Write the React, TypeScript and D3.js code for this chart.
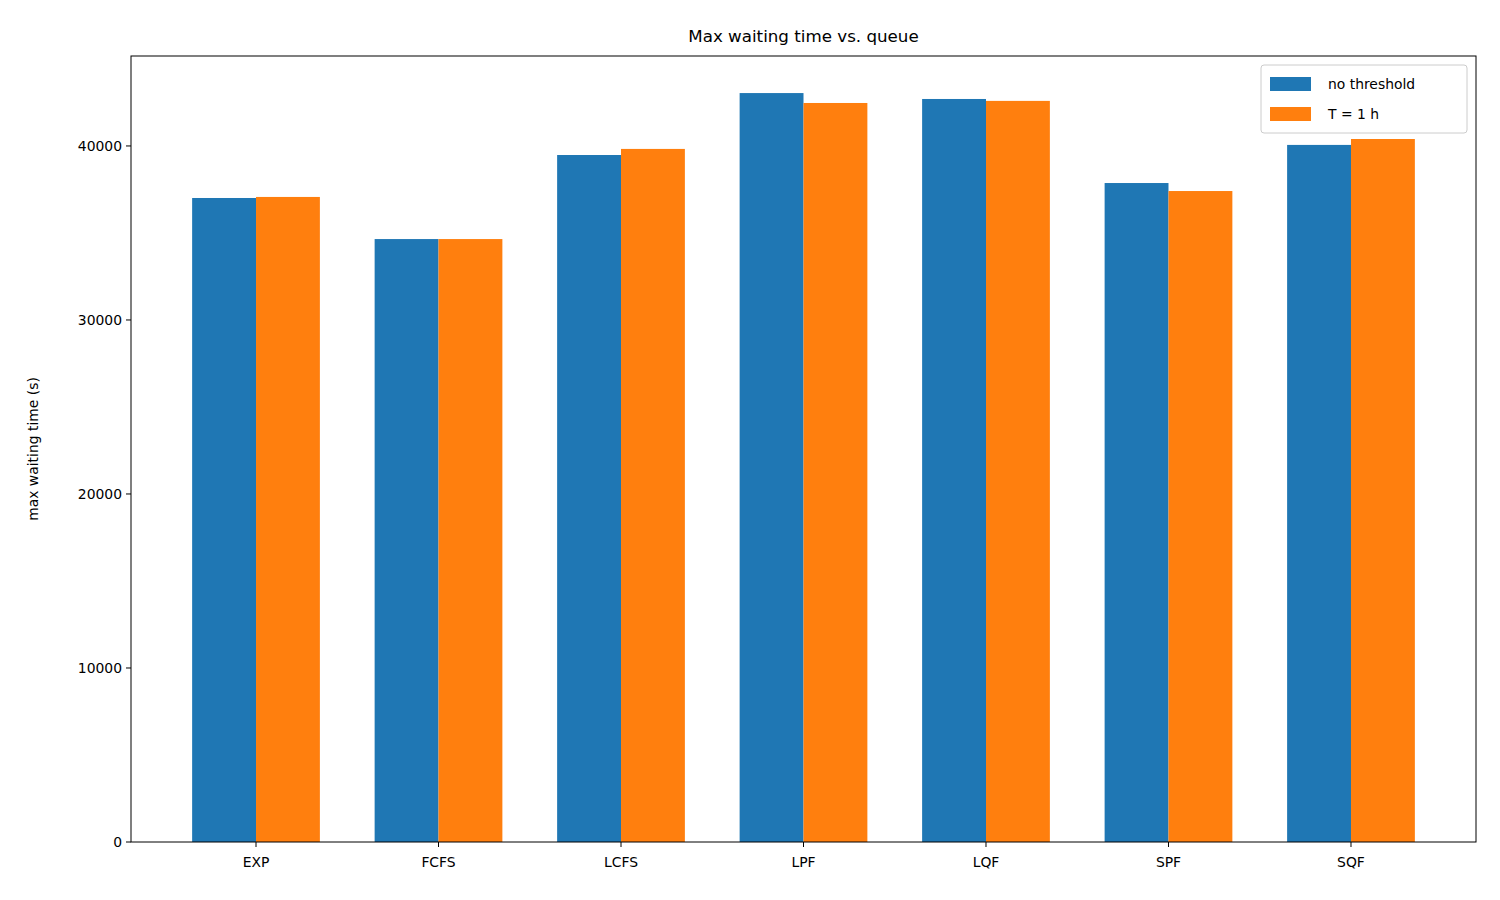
import * as d3 from 'd3'

const categories = ['EXP', 'FCFS', 'LCFS', 'LPF', 'LQF', 'SPF', 'SQF']
const noThreshold = [37010, 34650, 39480, 43040, 42700, 37870, 40060]
const oneHour = [37070, 34650, 39830, 42470, 42590, 37410, 40400]
const yTicks = [0, 10000, 20000, 30000, 40000]

const series = [
  { name: 'no threshold', values: noThreshold, color: '#1f77b4', offset: -0.175 },
  { name: 'T = 1 h', values: oneHour, color: '#ff7f0e', offset: 0.175 },
]

const W = 1500
const H = 900
const M = { top: 56, right: 24, bottom: 58, left: 131 }
const FONT = 'DejaVu Sans, sans-serif'

export default function App() {
  const iw = W - M.left - M.right
  const ih = H - M.top - M.bottom
  const x = d3.scaleLinear().domain([-0.685, categories.length - 1 + 0.685]).range([0, iw])
  const y = d3.scaleLinear().domain([0, 45170]).range([ih, 0])
  const bw = x(0.35) - x(0)

  return (
    <svg width={W} height={H} style={{ position: 'absolute', left: 0, top: 0 }} fontFamily={FONT}>
      <rect width={W} height={H} fill="#fff" />
      <text x={M.left + iw / 2} y={42} textAnchor="middle" fontSize={16.7}>
        Max waiting time vs. queue
      </text>
      <g transform={`translate(${M.left},${M.top})`}>
        {series.map((s) =>
          s.values.map((v, i) => (
            <rect
              key={s.name + i}
              x={x(i + s.offset) - bw / 2}
              y={y(v)}
              width={bw}
              height={ih - y(v)}
              fill={s.color}
            />
          ))
        )}
        <rect width={iw} height={ih} fill="none" stroke="#000" strokeWidth={1} />
        {yTicks.map((t) => (
          <g key={t} transform={`translate(0,${y(t)})`}>
            <line x2={-5} stroke="#000" />
            <text x={-9} dy="0.35em" textAnchor="end" fontSize={13.9}>
              {t}
            </text>
          </g>
        ))}
        {categories.map((c, i) => (
          <g key={c} transform={`translate(${x(i)},${ih})`}>
            <line y2={5} stroke="#000" />
            <text y={25} textAnchor="middle" fontSize={13.9}>
              {c}
            </text>
          </g>
        ))}
        <text
          transform={`translate(${-93},${ih / 2}) rotate(-90)`}
          textAnchor="middle"
          fontSize={13.9}
        >
          max waiting time (s)
        </text>
        <g transform={`translate(${iw - 215},9)`}>
          <rect width={206} height={68} rx={3} fill="#fff" stroke="#ccc" />
          {series.map((s, i) => (
            <g key={s.name} transform={`translate(9,${12 + i * 30})`}>
              <rect width={41} height={14} fill={s.color} />
              <text x={58} y={7} dy="0.35em" fontSize={13.9}>
                {s.name}
              </text>
            </g>
          ))}
        </g>
      </g>
    </svg>
  )
}
